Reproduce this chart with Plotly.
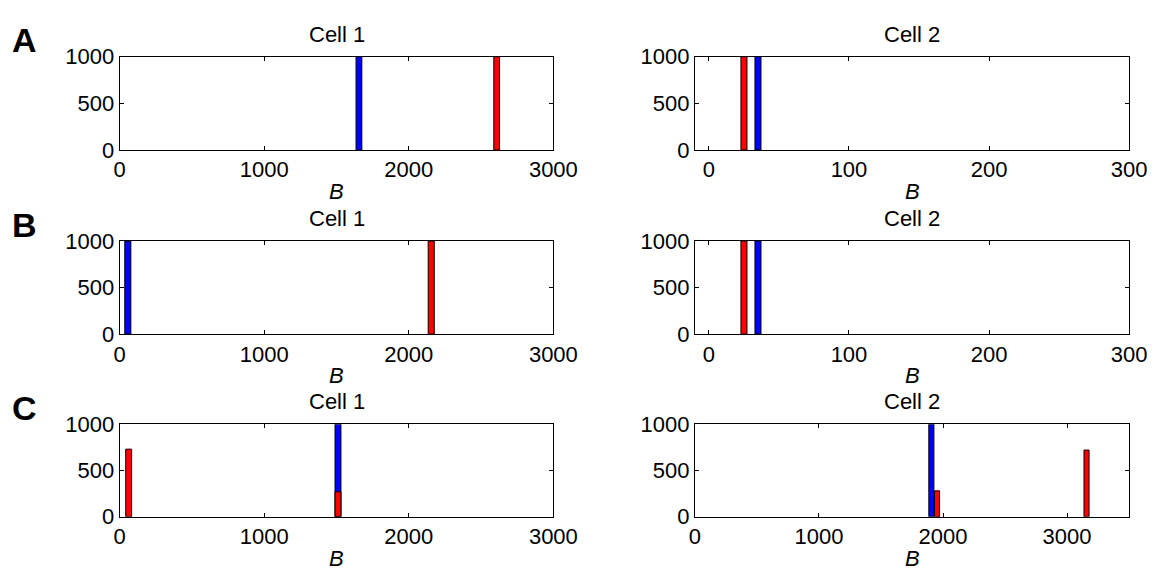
import plotly.graph_objects as go

# ---- data ----
panel_rows = ["A", "B", "C"]
cell_titles = ["Cell 1", "Cell 2"]

a1_blue_B = [1655]; a1_blue_n = [1000]
a1_red_B = [2608];  a1_red_n = [1000]
a2_blue_B = [35];   a2_blue_n = [1000]
a2_red_B = [25];    a2_red_n = [1000]

b1_blue_B = [56];   b1_blue_n = [1000]
b1_red_B = [2155];  b1_red_n = [1000]
b2_blue_B = [35];   b2_blue_n = [1000]
b2_red_B = [25];    b2_red_n = [1000]

c1_blue_B = [1510];       c1_blue_n = [1000]
c1_red_B = [62, 1510];    c1_red_n = [730, 270]
c2_blue_B = [1906];       c2_blue_n = [1000]
c2_red_B = [1952, 3157];  c2_red_n = [280, 720]

x_ticks_wide = [0, 1000, 2000, 3000]
x_ticks_narrow = [0, 100, 200, 300]
y_ticks = [0, 500, 1000]

panels = [
    (a1_blue_B, a1_blue_n, a1_red_B, a1_red_n, 40, [0, 3000], x_ticks_wide),
    (a2_blue_B, a2_blue_n, a2_red_B, a2_red_n, 4.3, [-10, 300], x_ticks_narrow),
    (b1_blue_B, b1_blue_n, b1_red_B, b1_red_n, 42, [0, 3000], x_ticks_wide),
    (b2_blue_B, b2_blue_n, b2_red_B, b2_red_n, 4.3, [-10, 300], x_ticks_narrow),
    (c1_blue_B, c1_blue_n, c1_red_B, c1_red_n, 41, [0, 3000], x_ticks_wide),
    (c2_blue_B, c2_blue_n, c2_red_B, c2_red_n, 41, [0, 3500], x_ticks_wide),
]

W, H = 1175, 580
FONT = "Liberation Sans, Arial, Helvetica, sans-serif"
FS = 22
col_px = [(116.7, 561.7), (707.0, 1152.5)]
row_px = [(46.7, 144.3), (239.3, 336.7), (430.7, 527.5)]

fig = go.Figure()
layout = dict(
    width=W, height=H, margin=dict(l=0, r=0, t=0, b=0),
    paper_bgcolor="white", plot_bgcolor="white",
    showlegend=False, barmode="overlay",
    font=dict(family=FONT, size=FS, color="black"),
)
annotations = []

for i, (bx, bn, rx, rn, w, xr, xt) in enumerate(panels):
    r, c = divmod(i, 2)
    k = i + 1
    xa = "x" if k == 1 else f"x{k}"
    ya = "y" if k == 1 else f"y{k}"
    fig.add_trace(go.Bar(x=bx, y=bn, width=w, xaxis=xa, yaxis=ya,
                         marker=dict(color="#0000ff", line=dict(color="black", width=1))))
    fig.add_trace(go.Bar(x=rx, y=rn, width=w, xaxis=xa, yaxis=ya,
                         marker=dict(color="#ff0000", line=dict(color="black", width=1))))
    x0, x1 = col_px[c]
    y0, y1 = row_px[r]
    common = dict(showline=True, linecolor="black", linewidth=1, mirror="ticks",
                  ticks="inside", ticklen=4, tickcolor="black", tickwidth=1,
                  showgrid=False, zeroline=False,
                  tickfont=dict(family=FONT, size=FS, color="black"))
    layout["xaxis" if k == 1 else f"xaxis{k}"] = dict(
        common, domain=[x0 / W, x1 / W], range=xr, tickvals=xt,
        anchor=ya, fixedrange=True)
    layout["yaxis" if k == 1 else f"yaxis{k}"] = dict(
        common, domain=[1 - y1 / H, 1 - y0 / H], range=[0, 1000], tickvals=y_ticks,
        anchor=xa, fixedrange=True)
    annotations.append(dict(text=cell_titles[c], x=(x0 + x1) / 2 / W, y=1 - y0 / H,
                            xref="paper", yref="paper", xanchor="center", yanchor="bottom",
                            yshift=8, showarrow=False,
                            font=dict(family=FONT, size=FS, color="black")))
    annotations.append(dict(text="<i>B</i>", x=(x0 + x1) / 2 / W, y=1 - y1 / H,
                            xref="paper", yref="paper", xanchor="center", yanchor="top",
                            yshift=-27, showarrow=False,
                            font=dict(family=FONT, size=FS, color="black")))
    if c == 0:
        annotations.append(dict(text="<b>%s</b>" % panel_rows[r], x=19 / W, y=1 - (y0 - 17) / H,
                                xref="paper", yref="paper", xanchor="center", yanchor="middle",
                                showarrow=False,
                                font=dict(family=FONT, size=34, color="black")))

layout["annotations"] = annotations
fig.update_layout(**layout)
fig.write_html("out.html")
